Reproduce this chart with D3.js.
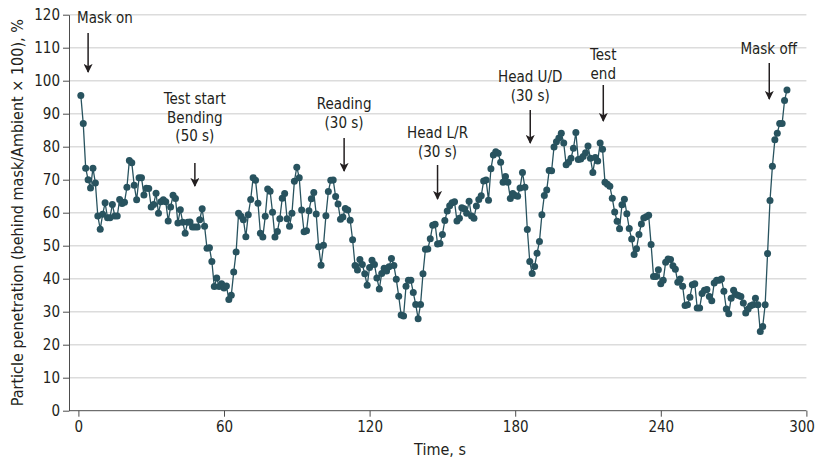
<!DOCTYPE html>
<html>
<head>
<meta charset="utf-8">
<script src="https://cdn.jsdelivr.net/npm/d3@7"></script>
<style>
  html, body { margin: 0; padding: 0; background: #fff; }
  svg { display: block; }
  text { font-family: "Liberation Sans Narrow", "DejaVu Sans Condensed", "Roboto Condensed", "Arial Narrow", sans-serif; font-stretch: condensed; fill: #231f20; }
</style>
</head>
<body>
<svg id="chart" width="817" height="462"></svg>
<script>
// ---- data ----
const startSecond = 1;   // first sample, s (1 sample per second)
const penetration = [
  95.5, 87, 73.5, 70, 67.5, 73.5, 69, 59, 55, 59.5,
  63, 58.5, 58.5, 62.5, 59, 59, 64, 62.8, 63.2, 67.7,
  75.8, 75.1, 68.3, 63.9, 70.6, 70.6, 65.4, 67.4, 67.3, 61.7,
  62.5, 65.9, 59.8, 63.3, 63.9, 63.3, 57.5, 61.7, 65.3, 64.3,
  56.9, 60.9, 57.1, 53.8, 57.1, 57.2, 55.7, 55.7, 55.7, 57.9,
  61.2, 55.9, 49.2, 49.4, 45.2, 37.6, 40.2, 37.6, 38.5, 37.2,
  37.8, 33.7, 35.0, 42.0, 48.1, 59.8, 58.9, 57.9, 52.7, 59.4,
  64.0, 70.6, 69.8, 62.9, 53.8, 52.6, 58.9, 67.2, 66.5, 60.1,
  52.6, 54.3, 58.2, 64.4, 65.8, 58.2, 55.9, 59.8, 69.5, 73.8,
  70.6, 60.8, 54.2, 54.5, 60.6, 64.2, 66.1, 59.6, 49.7, 44.1,
  50.1, 59.1, 66.4, 69.8, 69.9, 64.9, 62.6, 58.0, 58.7, 61.3,
  60.8, 57.7, 51.8, 44.0, 42.6, 45.8, 44.3, 41.5, 38.0, 43.4,
  45.6, 44.3, 40.2, 36.9, 41.6, 43.2, 42.3, 43.6, 46.1, 44.0,
  39.8, 34.7, 29.0, 28.7, 37.7, 39.5, 39.5, 35.8, 32.2, 27.9,
  32.2, 41.5, 48.9, 49.0, 52.1, 56.2, 56.5, 50.5, 50.7, 53.4,
  57.6, 60.5, 62.1, 63.0, 63.3, 57.5, 58.3, 61.5, 61.2, 59.8,
  63.5, 59.0, 58.3, 62.0, 64.0, 65.1, 69.6, 69.9, 63.8, 73.3,
  77.5, 78.5, 78.0, 75.3, 69.2, 71.0, 69.2, 64.3, 65.8, 65.2,
  65.0, 67.5, 72.2, 67.7, 54.9, 45.2, 41.6, 43.7, 47.7, 51.3,
  59.4, 65.2, 66.9, 72.8, 72.7, 79.9, 81.5, 82.6, 84.1, 81.1,
  74.5, 75.3, 76.5, 79.5, 84.3, 76.1, 76.3, 77.0, 78.2, 80.2,
  76.5, 72.2, 76.7, 75.7, 81.1, 79.2, 69.2, 68.6, 68.0, 64.4,
  60.2, 57.4, 55.1, 62.4, 64.1, 59.7, 55.2, 52.0, 47.3, 49.1,
  53.4, 56.6, 58.4, 58.8, 59.2, 50.4, 40.7, 40.7, 42.7, 38.5,
  39.5, 45.0, 46.0, 45.8, 43.9, 42.9, 38.9, 39.9, 37.7, 31.9,
  32.1, 34.4, 38.2, 38.5, 31.1, 31.1, 35.5, 36.5, 36.7, 34.6,
  33.3, 38.7, 39.5, 39.5, 39.9, 36.2, 30.8, 29.4, 34.1, 36.5,
  35.2, 34.9, 34.6, 32.6, 29.6, 30.8, 31.8, 32.1, 34.1, 32.1,
  24.0, 25.5, 32.1, 47.6, 63.7, 74.1, 82.1, 84.1, 87.0, 87.0,
  94.0, 97.2
];
const xTicks = [0, 60, 120, 180, 240, 300];
const yTicks = [0, 10, 20, 30, 40, 50, 60, 70, 80, 90, 100, 110, 120];
const xTitle = "Time, s";
const yTitle = "Particle penetration (behind mask/Ambient \u00d7 100), %";

// event annotations: time (s) and label lines
const eventTimes = [4, 48, 109.5, 148, 186.2, 216.3, 284.7];
const eventLabels = [
  ["Mask on"],
  ["Test start", "Bending", "(50 s)"],
  ["Reading", "(30 s)"],
  ["Head L/R", "(30 s)"],
  ["Head U/D", "(30 s)"],
  ["Test", "end"],
  ["Mask off"]
];

// ---- layout (styling, not data) ----
const arrowLayout = [
  {textY: 18, textX: 77, anchor: "start", y1: 33, y2: 72},
  {textY: 99, y1: 163, y2: 186},
  {textY: 104, y1: 138, y2: 171},
  {textY: 133, y1: 165, y2: 199},
  {textY: 77, y1: 110, y2: 143},
  {textY: 55, y1: 85, y2: 121},
  {textY: 49, textX: 797, anchor: "end", y1: 63, y2: 99}
];
const lineGap = 18.5;
const dotColor = "#28535f";

const svg = d3.select("#chart");
const x = d3.scaleLinear().domain([0, 300]).range([78.4, 806.4]);
const y = d3.scaleLinear().domain([0, 120]).range([410.7, 14.7]);
const axisX0 = 69;

// gridlines
svg.append("g").selectAll("line").data(yTicks.filter(d => d > 0)).join("line")
  .attr("x1", axisX0).attr("x2", x(300))
  .attr("y1", d => y(d)).attr("y2", d => y(d))
  .attr("stroke", "#dcdcdc").attr("stroke-width", 1.4);

// y axis
const yAxis = svg.append("g").attr("transform", `translate(${axisX0},0)`)
  .call(d3.axisLeft(y).tickValues(yTicks).tickSize(6).tickSizeOuter(0).tickPadding(3));
yAxis.select(".domain").attr("stroke", "#4d4d4d");
yAxis.selectAll(".tick line").attr("stroke", "#4d4d4d");
yAxis.selectAll("text").attr("font-size", 15).style("fill", "#231f20");

// x axis
const xAxis = svg.append("g").attr("transform", `translate(0,${y(0)})`)
  .call(d3.axisBottom(x).tickValues(xTicks).tickSize(6).tickSizeOuter(0).tickPadding(5));
xAxis.select(".domain").remove();
xAxis.append("line").attr("x1", axisX0).attr("x2", x(300)).attr("y1", 0).attr("y2", 0)
  .attr("stroke", "#4d4d4d");
xAxis.selectAll(".tick line").attr("stroke", "#4d4d4d");
xAxis.selectAll("text").attr("font-size", 15).style("fill", "#231f20");
// keep the last tick label inside the frame
xAxis.selectAll(".tick text").filter(d => d === 300).attr("text-anchor", "end").attr("dx", 8);

// axis titles
svg.append("text").attr("x", 440).attr("y", 455).attr("text-anchor", "middle")
  .attr("font-size", 16).text(xTitle);
svg.append("text").attr("transform", `translate(23,${(y(0) + y(120)) / 2}) rotate(-90)`)
  .attr("text-anchor", "middle").attr("font-size", 16).text(yTitle);

// data
const points = penetration.map((v, i) => ({t: startSecond + i, v}));
svg.append("path").datum(points)
  .attr("fill", "none").attr("stroke", dotColor).attr("stroke-width", 1.3)
  .attr("d", d3.line().x(d => x(d.t)).y(d => y(d.v)));
svg.append("g").selectAll("circle").data(points).join("circle")
  .attr("cx", d => x(d.t)).attr("cy", d => y(d.v)).attr("r", 3.5)
  .attr("fill", dotColor);

// arrows + labels
const defs = svg.append("defs");
defs.append("marker").attr("id", "ah").attr("viewBox", "0 0 10 10")
  .attr("refX", 9).attr("refY", 5).attr("markerWidth", 9).attr("markerHeight", 9)
  .attr("markerUnits", "userSpaceOnUse").attr("orient", "auto")
  .append("path").attr("d", "M0,0 L10,5 L0,10 L2.5,5 Z").attr("fill", "#231f20");

eventTimes.forEach((t, i) => {
  const L = arrowLayout[i];
  const ax = x(t);
  svg.append("line").attr("x1", ax).attr("x2", ax).attr("y1", L.y1).attr("y2", L.y2)
    .attr("stroke", "#231f20").attr("stroke-width", 1.5).attr("marker-end", "url(#ah)");
  const tx = L.textX !== undefined ? L.textX : ax;
  eventLabels[i].forEach((s, j) => {
    svg.append("text").attr("x", tx).attr("y", L.textY + j * lineGap)
      .attr("dy", "0.35em").attr("text-anchor", L.anchor || "middle")
      .attr("font-size", 15).text(s);
  });
});
</script>
</body>
</html>
